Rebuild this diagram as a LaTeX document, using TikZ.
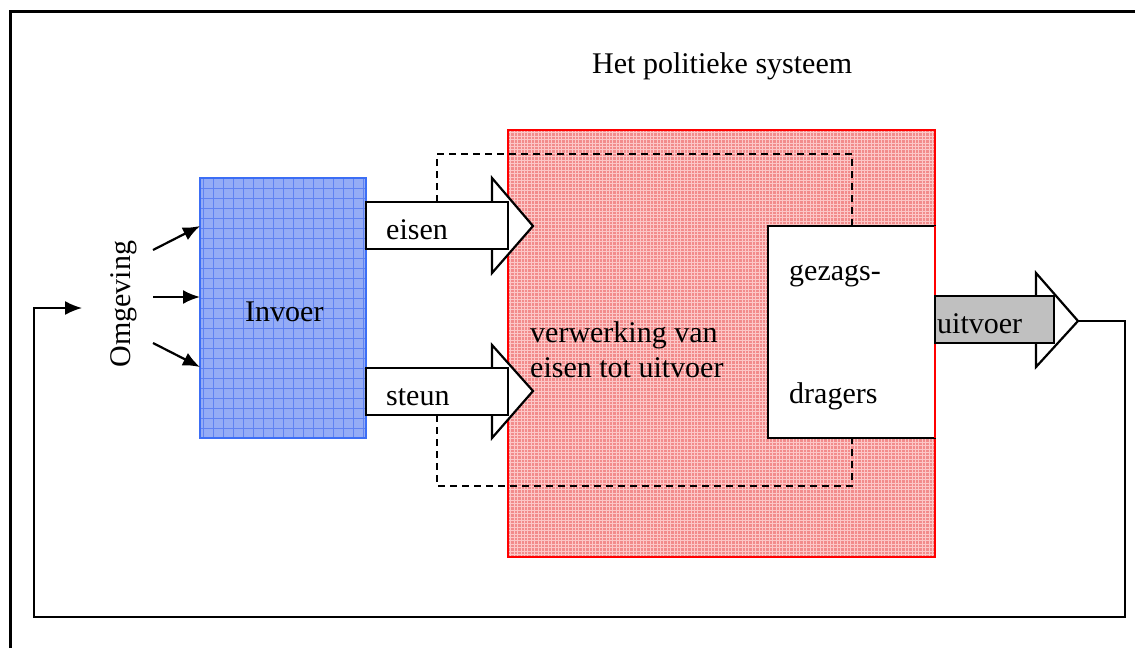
\documentclass[tikz,border=0pt]{standalone}
\usepackage{fontspec}
\setmainfont{Liberation Serif}
\usetikzlibrary{arrows.meta}
\definecolor{bluefill}{RGB}{148,172,246}
\definecolor{bluegrid}{RGB}{95,130,242}
\definecolor{blueedge}{RGB}{60,110,245}
\definecolor{redfill}{RGB}{242,140,140}
\definecolor{redgrid}{RGB}{252,200,200}
\definecolor{rededge}{RGB}{255,0,0}
\definecolor{uitgrey}{RGB}{192,192,192}
\begin{document}
\begin{tikzpicture}[x=1pt,y=-1pt,
  txt/.style={font=\fontsize{30}{36}\selectfont, inner sep=0pt, anchor=base west},
  invoerbox/.style={draw=blueedge, line width=2.5pt, fill=bluefill, inner sep=0pt, outer sep=0pt,
    anchor=north west,
    path picture={\draw[bluegrid, line width=0.8pt, step=10pt]
      (path picture bounding box.south west) grid (path picture bounding box.north east);}},
  systeembox/.style={draw=rededge, line width=2.5pt, fill=redfill, inner sep=0pt, outer sep=0pt,
    anchor=north west,
    path picture={\draw[redgrid, line width=0.7pt, step=3.4pt]
      (path picture bounding box.south west) grid (path picture bounding box.north east);}},
  gezagbox/.style={draw=black, line width=1.6pt, fill=white, inner sep=0pt, outer sep=0pt, anchor=north west},
  fatarrow/.style={draw=black, line width=2.2pt, fill=white, line join=miter},
  grens/.style={draw=black, line width=2.2pt, dash pattern=on 7pt off 5pt},
  pijl/.style={draw=black, line width=2.2pt, -{Latex[length=17pt,width=14pt]}},
  lus/.style={draw=black, line width=1.8pt}]
\useasboundingbox (0,0) rectangle (1135,648);

% outer frame
\draw[line width=3pt] (10,648) -- (10,11) -- (1135,11);

% the political system
\node[systeembox, minimum width=427pt, minimum height=427pt] (systeem) at (508,130) {};

% system boundary (dashed)
\draw[grens] (437,202) -- (437,154) -- (852,154) -- (852,226);
\draw[grens] (437,415) -- (437,486) -- (852,486) -- (852,438);

% input block
\node[invoerbox, minimum width=166pt, minimum height=260pt] (invoer) at (200,178) {};

% demands arrow
\draw[fatarrow] (492,178) -- (533,226) -- (492,273) -- cycle;
\draw[fatarrow] (366,202) rectangle (508,249);
% support arrow
\draw[fatarrow] (492,345) -- (533,391) -- (492,438) -- cycle;
\draw[fatarrow] (366,368) rectangle (508,415);

% authorities
\node[gezagbox, minimum width=167pt, minimum height=212pt] (gezag) at (768,226) {};
\draw[rededge, line width=2.5pt] (935,226) -- (935,438);

% output arrow
\draw[fatarrow] (1036,273) -- (1078,321) -- (1036,367) -- cycle;
\draw[fatarrow, fill=uitgrey] (935,296) rectangle (1054,343);
\coordinate (uittip) at (1078,321);

% feedback loop
\coordinate (terug) at (82,308);
\draw[lus, -{Latex[length=17pt,width=14pt]}] (uittip) -- (1125,321) -- (1125,617) -- (34,617) -- (34,308) -- (terug);

% environment arrows
\coordinate (o1) at (153,250);
\coordinate (o2) at (153,297);
\coordinate (o3) at (153,343);
\draw[pijl] (o1) -- (invoer.west |- 0,226);
\draw[pijl] (o2) -- (invoer.west |- 0,297);
\draw[pijl] (o3) -- (invoer.west |- 0,367);

% labels
\node[txt] (titel) at (592,73) {Het politieke systeem};
\node[txt] (tinvoer) at (245,321) {Invoer};
\node[txt] (teisen) at (386,239) {eisen};
\node[txt] (tsteun) at (386,405) {steun};
\node[txt] (tverw1) at (530,342) {verwerking van};
\node[txt] (tverw2) at (530,377) {eisen tot uitvoer};
\node[txt] (tgez1) at (789,280) {gezags-};
\node[txt] (tgez2) at (789,403) {dragers};
\node[txt] (tuit) at (937,333) {uitvoer};
\node[txt, anchor=base, rotate=90] (tomg) at (130,304) {Omgeving};
\end{tikzpicture}
\end{document}
